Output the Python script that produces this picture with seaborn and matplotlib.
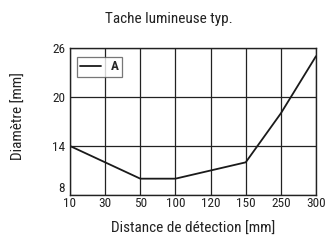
import matplotlib
matplotlib.use("Agg")
import matplotlib.pyplot as plt
import seaborn as sns
import pandas as pd

# Données
categories = ["10", "30", "50", "100", "120", "150", "250", "300"]
dist_pts = ["10", "50", "100", "150", "250", "300"]
diam_pts = [14, 10, 10, 12, 18, 25]
y_ticks = [8, 14, 20, 26]

sns.set_theme(style="white")
plt.rcParams["font.family"] = ["Roboto Condensed", "Liberation Sans", "DejaVu Sans"]

df = pd.DataFrame({
    "pos": [categories.index(d) for d in dist_pts],
    "diam": diam_pts,
})

W, H = 335, 245
fig = plt.figure(figsize=(W / 100, H / 100), dpi=100)
ax = fig.add_axes([70 / W, 1 - 195 / H, (316 - 70) / W, (195 - 48) / H])

sns.lineplot(data=df, x="pos", y="diam", ax=ax, color="#1a1a1a",
             linewidth=1.3, label="A")

ax.set_xlim(0, len(categories) - 1)
ax.set_ylim(y_ticks[0], y_ticks[-1])
ax.set_xticks(range(len(categories)))
ax.set_xticklabels(categories)
ax.set_yticks(y_ticks)
ax.grid(True, color="#222222", linewidth=0.9)
for s in ax.spines.values():
    s.set_color("#222222")
    s.set_linewidth(1.0)
ax.tick_params(axis="both", direction="out", length=3, width=0.8,
               color="#222222", labelsize=9.5, labelcolor="#222222")
ax.tick_params(axis="y", pad=0.5)
ax.tick_params(axis="x", pad=-1.5)
# le "8" est relevé au-dessus du coin, comme sur l'original
ax.get_yticklabels()[0].set_verticalalignment("bottom")

ax.set_xlabel("")
ax.set_ylabel("")
fig.text(193 / W, 1 - 229 / H, "Distance de détection [mm]", ha="center",
         va="center", fontsize=11, color="#222222")
fig.text(19 / W, 1 - 116 / H, "Diamètre [mm]", ha="center", va="center",
         rotation=90, fontsize=11, color="#222222")
fig.text(169 / W, 1 - 19 / H, "Tache lumineuse typ.", ha="center", va="center",
         fontsize=11, color="#222222")

leg = ax.legend(loc="upper left", bbox_to_anchor=(7 / 246, 1 - 9 / 147),
                borderaxespad=0, frameon=True, fancybox=False,
                handlelength=1.6, borderpad=0.25, handletextpad=0.7,
                fontsize=9.5)
leg.get_frame().set_edgecolor("#555555")
leg.get_frame().set_linewidth(0.9)
for t in leg.get_texts():
    t.set_fontweight("bold")

fig.savefig("out.png", dpi=100)
